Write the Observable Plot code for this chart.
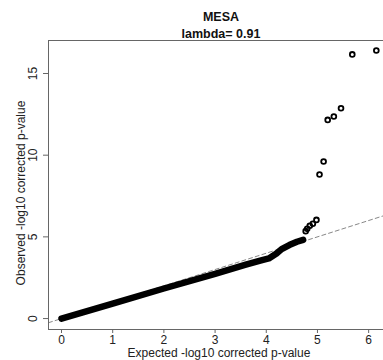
<!DOCTYPE html>
<html>
<head>
<meta charset="utf-8">
<script src="https://cdn.jsdelivr.net/npm/d3@7"></script>
<script src="https://cdn.jsdelivr.net/npm/@observablehq/plot@0.6"></script>
<style>
  html, body { margin: 0; padding: 0; background: #fff; }
  #chart { width: 383px; height: 360px; overflow: hidden; }
</style>
</head>
<body>
<div id="chart"></div>
<script>
// Title lines
const titleMain = "MESA";
const titleSub = "lambda= 0.91";
const xLabel = "Expected -log10 corrected p-value";
const yLabel = "Observed -log10 corrected p-value";

// Tick values
const xTicks = [0, 1, 2, 3, 4, 5, 6];
const yTicks = [0, 5, 10, 15];

// Dense body of the QQ curve
const bodyExpected = [0, 1, 2, 3, 3.6, 3.9, 4.05, 4.2, 4.3, 4.45, 4.6, 4.72];
const bodyObserved = [0, 0.92, 1.84, 2.74, 3.3, 3.56, 3.68, 3.98, 4.25, 4.5, 4.7, 4.82];

// Individual tail points
const tailExpected = [4.77, 4.80, 4.85, 4.91, 4.98, 5.04, 5.12, 5.20, 5.32, 5.46, 5.68, 6.15];
const tailObserved = [5.35, 5.49, 5.68, 5.80, 6.04, 8.82, 9.61, 12.16, 12.37, 12.87, 16.17, 16.41];

// Axis domains
const xDomain = [-0.254, 6.29];
const yDomain = [-0.67, 17.02];

const body = bodyExpected.map((e, i) => ({e, o: bodyObserved[i]}));
const tail = tailExpected.map((e, i) => ({e, o: tailObserved[i]}));
const diag = [{e: xDomain[0], o: xDomain[0]}, {e: 6.6, o: 6.6}];

const font = "'Liberation Sans', Arial, Helvetica, sans-serif";

const chart = Plot.plot({
  width: 383,
  height: 360,
  marginLeft: 48,
  marginRight: 0,
  marginTop: 40,
  marginBottom: 31,
  style: {fontFamily: font, fontSize: "12px", background: "#fff", overflow: "hidden"},
  x: {domain: xDomain},
  y: {domain: yDomain},
  marks: [
    // identity line
    Plot.line(diag, {x: "e", y: "o", stroke: "#888", strokeWidth: 1, strokeDasharray: "4,3", clip: true}),
    // dense body
    Plot.line(body, {x: "e", y: "o", stroke: "black", strokeWidth: 6.5, strokeLinecap: "round", strokeLinejoin: "round"}),
    // tail points
    Plot.dot(tail, {x: "e", y: "o", r: 2.4, stroke: "black", strokeWidth: 1.8, fill: "none"}),
    // box (top, bottom, left)
    Plot.ruleY([yDomain[1]], {stroke: "#666", strokeWidth: 1}),
    Plot.ruleY([yDomain[0]], {stroke: "#666", strokeWidth: 1}),
    Plot.ruleX([xDomain[0]], {stroke: "#666", strokeWidth: 1}),
    // x axis
    Plot.axisX({ticks: xTicks, tickSize: 4, tickPadding: 2, tickFormat: d => String(d), fill: "#222", stroke: "#666", label: null, fontSize: 12}),
    // y axis ticks (labels drawn rotated below)
    Plot.axisY({ticks: yTicks, tickSize: 5, text: null, stroke: "#666", label: null}),
    Plot.text(yTicks, {y: d => d, text: d => String(d), frameAnchor: "left", dx: -15, rotate: -90, textAnchor: "middle", lineAnchor: "middle", fill: "#222", fontSize: 12}),
    // axis titles
    Plot.text([xLabel], {frameAnchor: "bottom", dy: 24, dx: 3, lineAnchor: "middle", fill: "#222", fontSize: 12}),
    Plot.text([yLabel], {frameAnchor: "left", dx: -27, dy: 8, rotate: -90, textAnchor: "middle", lineAnchor: "middle", fill: "#222", fontSize: 12}),
    // titles
    Plot.text([titleMain], {frameAnchor: "top", dy: -24, dx: 5, lineAnchor: "middle", fontWeight: "bold", fill: "#111", fontSize: 12.5}),
    Plot.text([titleSub], {frameAnchor: "top", dy: -7, dx: 5, lineAnchor: "middle", fontWeight: "bold", fill: "#111", fontSize: 12.5})
  ]
});
document.getElementById("chart").appendChild(chart);
</script>
</body>
</html>
